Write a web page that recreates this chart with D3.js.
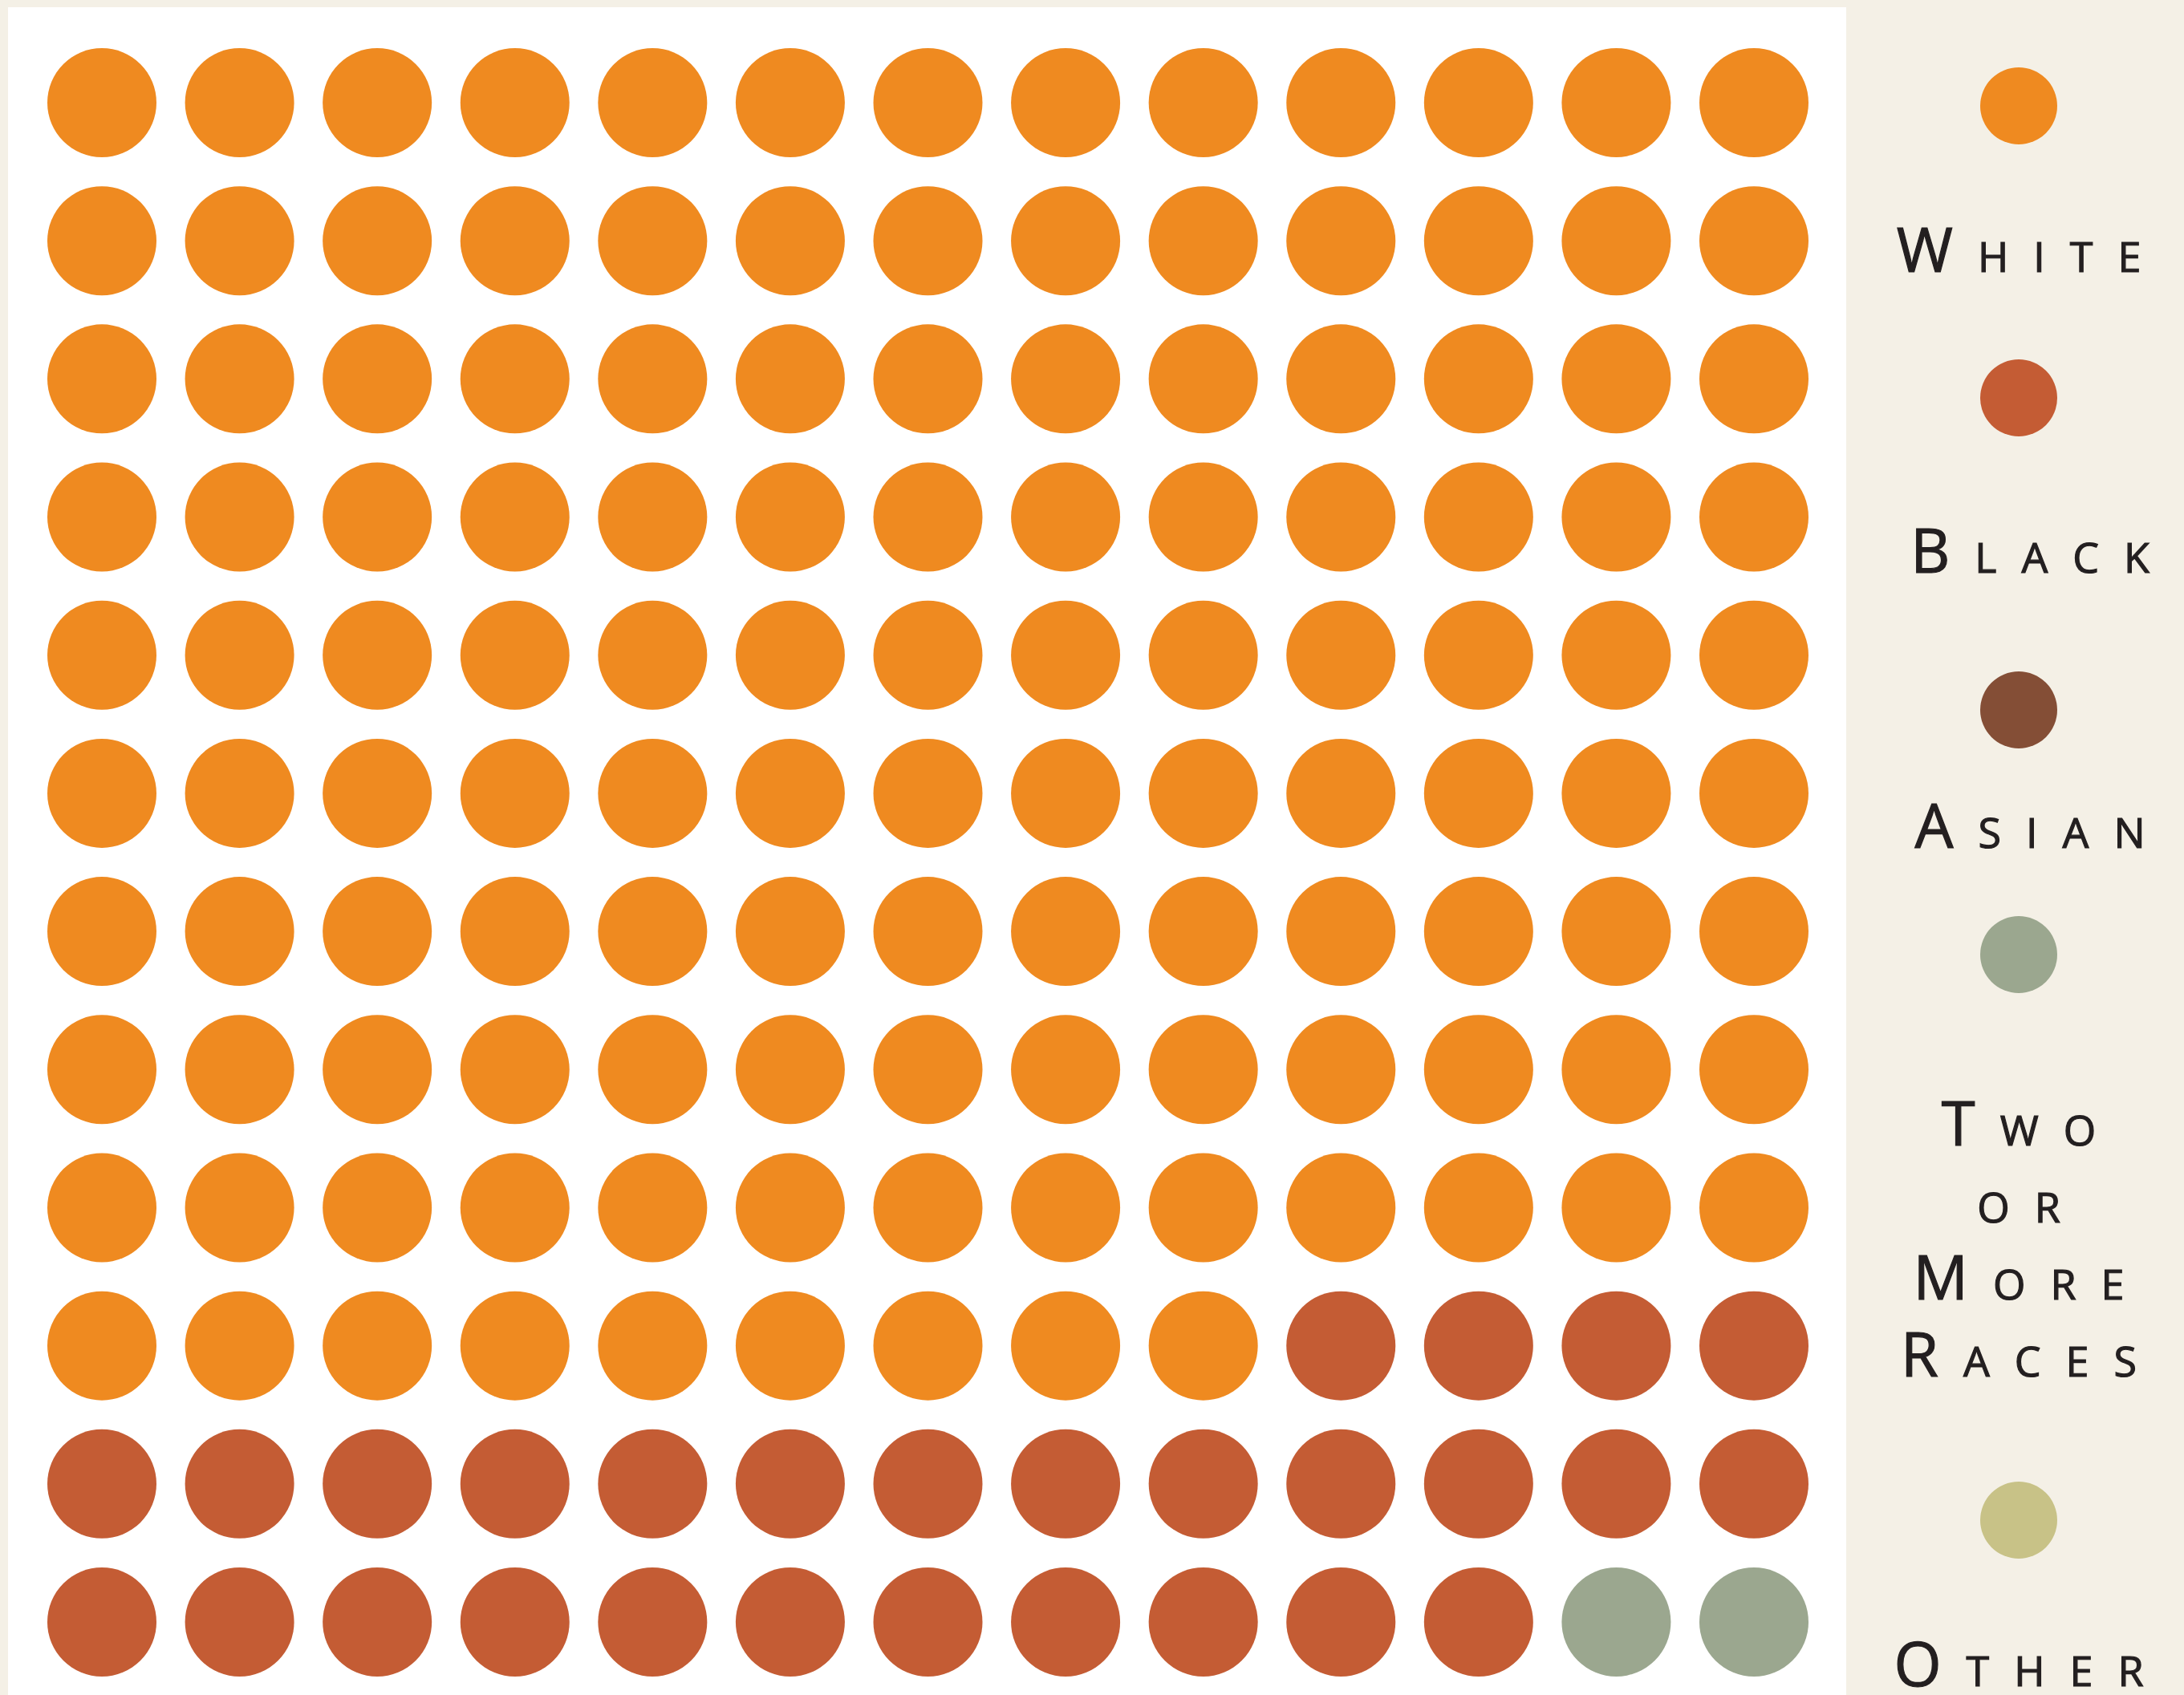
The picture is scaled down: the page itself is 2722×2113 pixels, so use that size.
<!DOCTYPE html>
<html>
<head>
  <meta charset="utf-8">
  <script src="https://d3js.org/d3.v7.min.js"></script>
  <style>
      body {
          margin: 0;
          background-color: #f4f0e6;
          overflow: hidden;
      }
      text {
          font-family: "Open Sans", "Noto Sans", sans-serif;
          font-weight: 400;
          fill: #231f20;
          stroke: #231f20;
          stroke-width: 1.2px;
      }
  </style>
</head>
<body>
<script>
var width = 2722;
var height = 2113;

// one dot per share of the population, filled row by row
const categories = ["White", "Black", "Asian", "Two or More Races", "Other"];
const counts = [126, 28, 0, 2, 0];
const colors = ["#ef8a20", "#c45c34", "#844e36", "#9ba78f", "#c8c287"];
const labelLines = [["White"], ["Black"], ["Asian"], ["Two", "or", "More", "Races"], ["Other"]];

const nCols = 13;
const nRows = 12;

// legend layout (circle centre + label baselines)
const legendDotY = [132, 496, 885, 1190, 1895];
const legendTextY = [[339], [714], [1057], [1428, 1524, 1620, 1716], [2102]];
const legendTextDx = [0, 14, 14, 0, 0];

var dots = [];
categories.forEach(function(c, i) {
    for (var k = 0; k < counts[i]; k++) dots.push({ cat: c, color: colors[i] });
});
dots.forEach(function(d, i) {
    d.col = i % nCols;
    d.row = Math.floor(i / nCols);
});

var svg = d3.select("body")
    .append("svg")
    .attr("width", width)
    .attr("height", height);

svg.append("rect")
    .attr("x", 10)
    .attr("y", 9)
    .attr("width", 2291)
    .attr("height", height)
    .attr("fill", "#ffffff");

var x = d3.scalePoint().domain(d3.range(nCols)).range([127, 2186]);
var y = d3.scalePoint().domain(d3.range(nRows)).range([128, 2022]);

svg.append("g")
    .selectAll("circle")
    .data(dots)
    .enter()
    .append("circle")
    .attr("cx", d => x(d.col))
    .attr("cy", d => y(d.row))
    .attr("r", 68)
    .attr("fill", d => d.color);

// legend
var legendX = 2516;
var spacing = 31;

var legend = svg.append("g")
    .selectAll("g")
    .data(categories)
    .enter()
    .append("g");

legend.append("circle")
    .attr("cx", legendX)
    .attr("cy", (d, i) => legendDotY[i])
    .attr("r", 48)
    .attr("fill", (d, i) => colors[i]);

legend.each(function(d, i) {
    var g = d3.select(this);
    labelLines[i].forEach(function(word, j) {
        var t = g.append("text")
            .attr("x", legendX + spacing / 2 + legendTextDx[i])
            .attr("y", legendTextY[i][j])
            .attr("text-anchor", "middle")
            .style("letter-spacing", spacing + "px");
        var first = word.charAt(0);
        var big = first === first.toUpperCase();
        if (big) {
            t.append("tspan").attr("font-size", 76).text(first);
            t.append("tspan").attr("font-size", 52).text(word.slice(1).toUpperCase());
        } else {
            t.append("tspan").attr("font-size", 52).text(word.toUpperCase());
        }
    });
});
</script>
</body>
</html>
